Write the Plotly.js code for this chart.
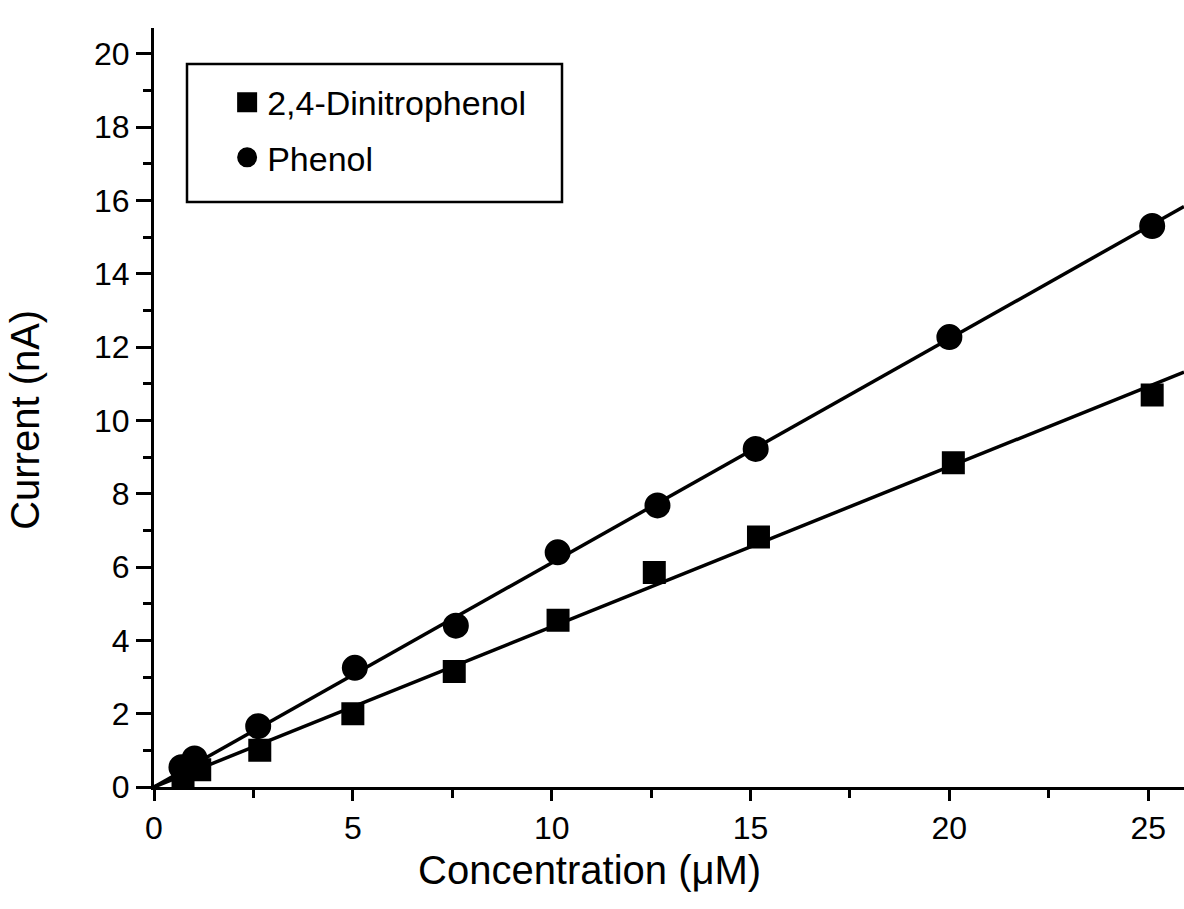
<!DOCTYPE html>
<html>
<head>
<meta charset="utf-8">
<script src="https://cdn.plot.ly/plotly-3.0.1.min.js"></script>
<style>
  html, body { margin: 0; padding: 0; background: #fff; }
  #chart { width: 1184px; height: 909px; }
</style>
</head>
<body>
<div id="chart"></div>
<script>
// ---- data ----
const seriesNames = ["2,4-Dinitrophenol", "Phenol"];
const concDNP = [0.73, 1.15, 2.66, 5.0, 7.55, 10.16, 12.58, 15.2, 20.1, 25.1];
const currentDNP = [0.25, 0.47, 1.0, 2.0, 3.15, 4.55, 5.85, 6.82, 8.84, 10.69];
const concPhenol = [0.69, 1.02, 2.62, 5.05, 7.59, 10.15, 12.66, 15.13, 20.0, 25.1];
const currentPhenol = [0.54, 0.78, 1.66, 3.25, 4.4, 6.4, 7.68, 9.22, 12.27, 15.3];
const xTicks = [0, 5, 10, 15, 20, 25];
const yTicks = [0, 2, 4, 6, 8, 10, 12, 14, 16, 18, 20];
const xTitle = "Concentration (μM)";
const yTitle = "Current (nA)";

const X_MAX = 25.9, Y_MAX = 20.7;

// least-squares line through the origin, computed from the data
function slopeThroughOrigin(xs, ys) {
  let sxy = 0, sxx = 0;
  for (let i = 0; i < xs.length; i++) { sxy += xs[i] * ys[i]; sxx += xs[i] * xs[i]; }
  return sxy / sxx;
}
const kDNP = slopeThroughOrigin(concDNP, currentDNP);
const kPh = slopeThroughOrigin(concPhenol, currentPhenol);
const fitX = [0, X_MAX];

const font = "Liberation Sans, Arial, Helvetica, sans-serif";
const TICK_FS = 32, LEGEND_FS = 34, TITLE_FS = 40;

const traces = [
  { x: fitX, y: fitX.map(v => v * kDNP), mode: "lines", line: { color: "black", width: 3.5 },
    showlegend: false, hoverinfo: "skip" },
  { x: fitX, y: fitX.map(v => v * kPh), mode: "lines", line: { color: "black", width: 3.5 },
    showlegend: false, hoverinfo: "skip" },
  { x: concDNP, y: currentDNP, name: seriesNames[0], mode: "markers",
    marker: { symbol: "square", size: 19, color: "black", line: { color: "black", width: 4 } },
    cliponaxis: false, legendgroup: "a" },
  { x: concPhenol, y: currentPhenol, name: seriesNames[1], mode: "markers",
    marker: { symbol: "circle", size: 22, color: "black", line: { color: "black", width: 4 } },
    cliponaxis: false, legendgroup: "b" }
];

const layout = {
  width: 1184, height: 909,
  margin: { l: 154, r: 0, t: 28, b: 122 },
  paper_bgcolor: "white", plot_bgcolor: "white",
  font: { family: font, color: "black", size: TICK_FS },
  showlegend: true,
  legend: {
    x: 0.071, y: 0.94, xanchor: "left", yanchor: "top",
    bgcolor: "rgba(0,0,0,0)", borderwidth: 0,
    font: { family: font, size: LEGEND_FS, color: "black" },
    itemsizing: "trace", tracegroupgap: 8, traceorder: "grouped"
  },
  xaxis: {
    range: [0, X_MAX], tickvals: xTicks, ticktext: xTicks.map(String),
    showgrid: false, zeroline: false, showline: true, linecolor: "black", linewidth: 3,
    ticks: "outside", ticklen: 11, tickwidth: 3, tickcolor: "black",
    tickfont: { family: font, size: TICK_FS },
    minor: { dtick: 2.5, ticks: "outside", ticklen: 8, tickwidth: 3, tickcolor: "black", showgrid: false },
    fixedrange: true
  },
  yaxis: {
    range: [0, Y_MAX], tickvals: yTicks, ticktext: yTicks.map(String),
    showgrid: false, zeroline: false, showline: true, linecolor: "black", linewidth: 3,
    ticks: "outside", ticklen: 15, tickwidth: 3, tickcolor: "black",
    tickfont: { family: font, size: TICK_FS },
    minor: { dtick: 1, ticks: "outside", ticklen: 8, tickwidth: 3, tickcolor: "black", showgrid: false },
    fixedrange: true
  },
  annotations: [
    { text: xTitle, xref: "paper", yref: "paper", x: 0.423, y: -0.109,
      xanchor: "center", yanchor: "middle", showarrow: false,
      font: { family: font, size: TITLE_FS, color: "black" } },
    { text: yTitle, xref: "paper", yref: "paper", x: -0.126, y: 0.484,
      xanchor: "center", yanchor: "middle", showarrow: false, textangle: -90,
      font: { family: font, size: TITLE_FS, color: "black" } }
  ],
  shapes: [
    { type: "rect", xref: "paper", yref: "paper",
      x0: (187 - 154) / 1030, x1: (562 - 154) / 1030,
      y0: (787 - 202) / 759, y1: (787 - 64) / 759,
      line: { color: "black", width: 2.5 }, fillcolor: "rgba(0,0,0,0)", layer: "above" }
  ]
};

Plotly.newPlot("chart", traces, layout, { displayModeBar: false, staticPlot: true });
</script>
</body>
</html>
